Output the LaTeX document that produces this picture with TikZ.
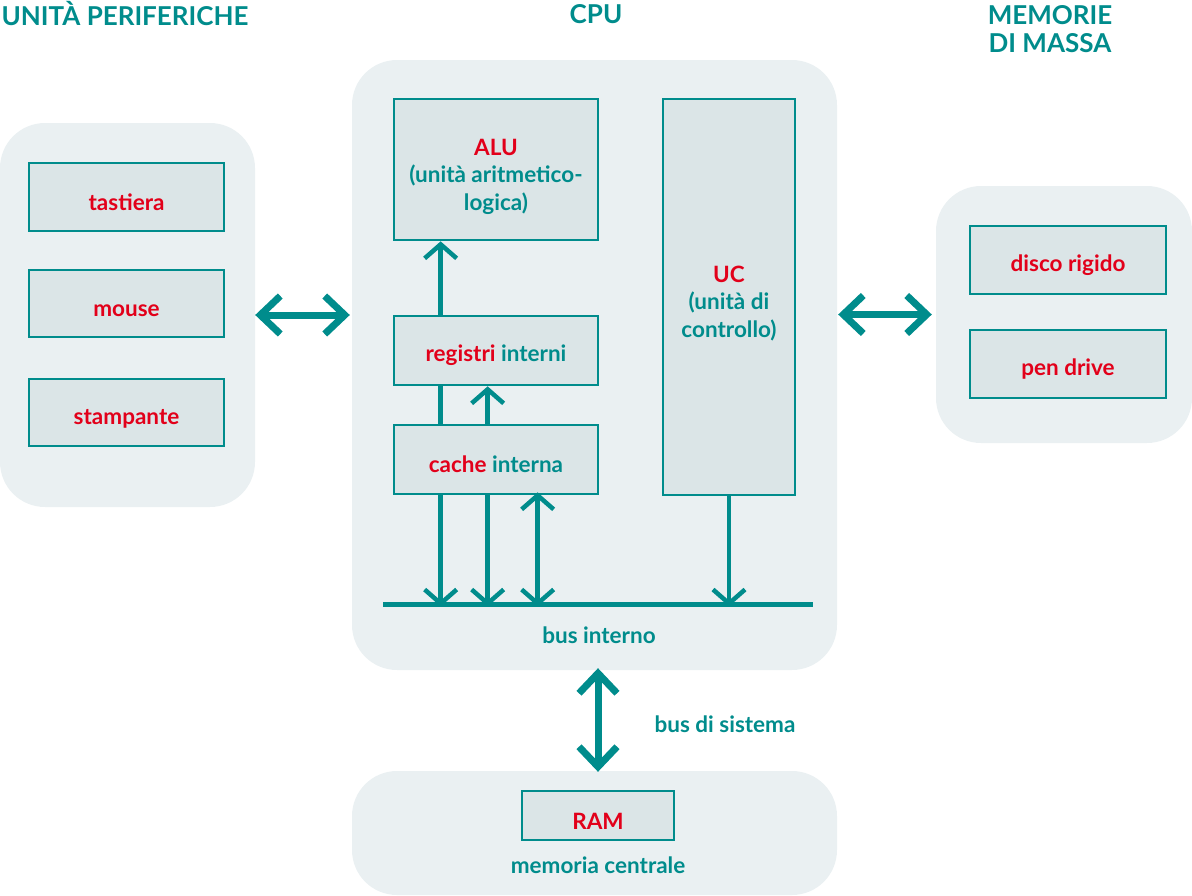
\documentclass[tikz,border=0pt]{standalone}
\usepackage{fontspec}
\setmainfont{Lato}
\usetikzlibrary{arrows.meta}
\definecolor{teal1}{HTML}{008C8C}
\definecolor{red1}{HTML}{E2001A}
\definecolor{panelbg}{HTML}{EAF0F2}
\definecolor{boxbg}{HTML}{DBE5E7}
\tikzset{
  x=1pt,y=-1pt,
  panel/.style={fill=panelbg, draw=none, rounded corners=45pt, inner sep=0pt},
  boxm/.style={fill=boxbg, draw=teal1, line width=2.7pt, inner sep=0pt, align=center,
    font=\fontsize{22.5}{27.5}\selectfont\bfseries, text=teal1},
  box/.style={boxm, execute at begin node={\rule{0pt}{27pt}}},
  title/.style={font=\fontsize{26}{28}\selectfont\bfseries, text=teal1, align=center, inner sep=0pt},
  lbl/.style={font=\fontsize{22.5}{27.5}\selectfont\bfseries, text=teal1, inner sep=0pt},
  sarr/.style={draw=teal1, line width=4.5pt, -{Straight Barb[length=14pt,width=32pt,sharp]}},
  sline/.style={draw=teal1, line width=4.5pt},
  sdarr/.style={draw=teal1, line width=4.5pt, {Straight Barb[length=14pt,width=32pt,sharp]}-{Straight Barb[length=14pt,width=32pt,sharp]}},
  bigarr/.style={draw=teal1, line width=7pt, {Straight Barb[length=20pt,width=38pt,sharp]}-{Straight Barb[length=20pt,width=38pt,sharp]}},
  busline/.style={draw=teal1, line width=5pt},
}
\newcommand{\rd}[1]{\textcolor{red1}{#1}}
\begin{document}
\begin{tikzpicture}
\useasboundingbox (0,0) rectangle (1192,895);
% titles
\node[title] (t1) at (125,14) {UNITÀ PERIFERICHE};
\node[title] (t2) at (596,14) {CPU};
\node[title] (t3) at (1050,29) {MEMORIE\\DI MASSA};
% panels
\node[panel, minimum width=255pt, minimum height=384pt] (pl) at (127.5,315) {};
\node[panel, minimum width=485pt, minimum height=610pt] (cpu) at (594.5,365) {};
\node[panel, minimum width=256pt, minimum height=257pt] (mm) at (1064,314.5) {};
\node[panel, minimum width=485pt, minimum height=124pt] (mc) at (594.5,833) {};
% left boxes
\node[box, minimum width=195pt, minimum height=68pt] (tast) at (126.5,197) {\rd{tastiera}};
\node[box, minimum width=195pt, minimum height=67pt] (mouse) at (126.5,303.5) {\rd{mouse}};
\node[box, minimum width=195pt, minimum height=67pt] (stamp) at (126.5,412.5) {\rd{stampante}};
% right boxes
\node[box, minimum width=196pt, minimum height=68pt] (disco) at (1068,260) {\rd{disco rigido}};
\node[box, minimum width=196pt, minimum height=68pt] (pen) at (1068,364) {\rd{pen drive}};
% cpu boxes
\node[boxm, minimum width=204pt, minimum height=141pt] (alu) at (496,169.5) {\rule{0pt}{31pt}\rd{ALU}\\(unità aritmetico-\\logica)};
\node[boxm, minimum width=132pt, minimum height=396pt] (uc) at (729,297) {\rule{0pt}{29pt}\rd{UC}\\(unità di\\controllo)};
\node[box, minimum width=204pt, minimum height=69pt] (reg) at (496,350.5) {\rd{registri} interni};
\node[box, minimum width=204pt, minimum height=69pt] (cache) at (496,459.5) {\rd{cache} interna};
% ram
\node[box, minimum width=152pt, minimum height=49pt] (ram) at (598,815.5) {\rd{RAM}};
\node[lbl] (memc) at (598,865) {memoria centrale};
% bus
\coordinate (busL) at (383,604);
\coordinate (busR) at (813,604);
\draw[busline] (busL) -- (busR);
\node[lbl] (busi) at (599,635) {bus interno};
\node[lbl] (buss) at (725,724) {bus di sistema};
% cpu internal arrows
\draw[sarr] ([xshift=48pt]reg.north west) -- ([xshift=48pt]alu.south west);
\draw[sline] ([xshift=48pt]cache.north west) -- ([xshift=48pt]reg.south west);
\draw[sarr] ([xshift=95pt]cache.north west) -- ([xshift=95pt]reg.south west);
\draw[sarr] ([xshift=48pt]cache.south west) -- ([xshift=48pt,yshift=-2.5pt]cache.south west |- busL);
\draw[sarr] ([xshift=95pt]cache.south west) -- ([xshift=95pt,yshift=-2.5pt]cache.south west |- busL);
\draw[sdarr] ([xshift=145pt,yshift=3pt]cache.south west) -- ([xshift=145pt,yshift=-2.5pt]cache.south west |- busL);
\draw[sarr] (uc.south) -- ([yshift=-2.5pt]uc.south |- busL);
% outer arrows
\draw[bigarr] (pl.east) -- ([xshift=-2pt]pl.east -| cpu.west);
\draw[bigarr] ([xshift=1pt]mm.west -| cpu.east) -- ([xshift=-4pt]mm.west);
\draw[bigarr] ([yshift=2pt]ram.north |- cpu.south) -- ([yshift=-1pt]ram.north |- mc.north);
\end{tikzpicture}
\end{document}
